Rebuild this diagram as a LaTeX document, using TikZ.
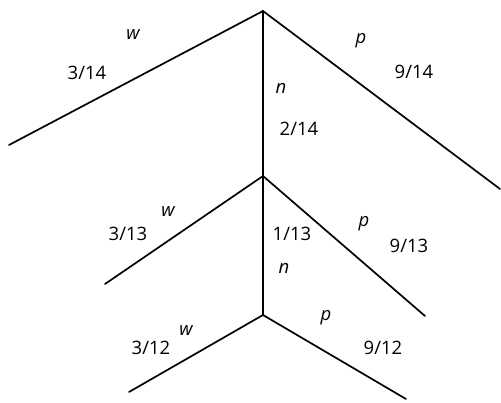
\documentclass[tikz,border=0pt]{standalone}
\usepackage{fontspec}
\setmainfont{Open Sans}
\begin{document}
\begin{tikzpicture}[x=1pt,y=-1pt,
  branch/.style={line width=1.7pt, line cap=round},
  lbl/.style={font=\fontsize{18.5}{22}\selectfont, inner sep=0pt},
  var/.style={font=\fontsize{18.5}{22}\selectfont\itshape, inner sep=0pt}]
\useasboundingbox (0,0) rectangle (501,402);
% junctions and ends
\coordinate (A) at (263,11);
\coordinate (Aw) at (9,145);
\coordinate (Ap) at (500,189);
\coordinate (B) at (263,176);
\coordinate (Bw) at (105,284);
\coordinate (Bp) at (425,316);
\coordinate (C) at (263,315);
\coordinate (Cw) at (129,392);
\coordinate (Cp) at (406,399);
\draw[branch] (Aw) -- (A) -- (Ap);
\draw[branch] (A) -- (B);
\draw[branch] (Bw) -- (B) -- (Bp);
\draw[branch] (B) -- (C);
\draw[branch] (Cw) -- (C) -- (Cp);
% labels, first level
\node[var] (l1) at (133,35) {w};
\node[lbl] (l2) at (87,73) {3/14};
\node[var] (l3) at (361,41) {p};
\node[lbl] (l4) at (414,72) {9/14};
\node[var] (l5) at (281,88) {n};
\node[lbl] (l6) at (299,129) {2/14};
% second level
\node[var] (l7) at (168,212) {w};
\node[lbl] (l8) at (128,234) {3/13};
\node[lbl] (l9) at (292,234) {1/13};
\node[var] (l10) at (364,224) {p};
\node[lbl] (l11) at (409,246) {9/13};
\node[var] (l12) at (284,268) {n};
% third level
\node[var] (l13) at (326,318) {p};
\node[var] (l14) at (186,331) {w};
\node[lbl] (l15) at (151,348) {3/12};
\node[lbl] (l16) at (383,348) {9/12};
\end{tikzpicture}
\end{document}
